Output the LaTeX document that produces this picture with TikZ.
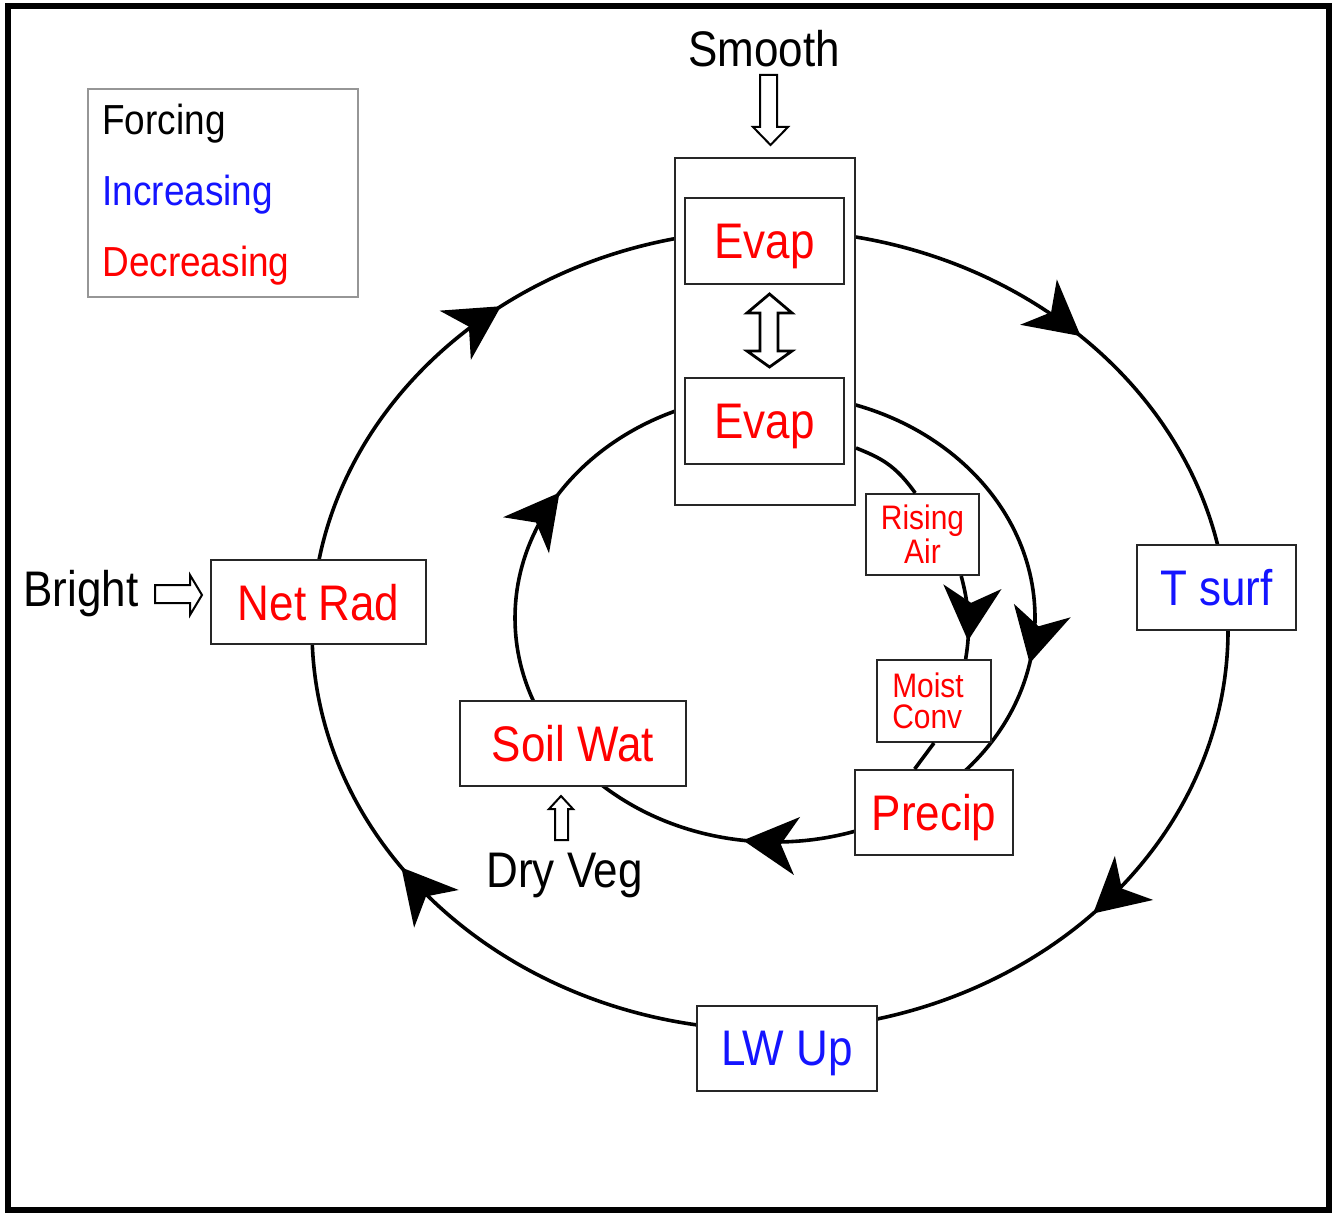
\documentclass[tikz,border=0pt]{standalone}
\usepackage{fontspec}
\newfontfamily\arial{Liberation Sans}[FakeStretch=0.88]
\usetikzlibrary{arrows.meta,decorations.markings,calc}
\definecolor{mred}{RGB}{255,0,0}
\definecolor{mblue}{RGB}{20,20,255}
\definecolor{lgray}{RGB}{150,150,150}
\begin{document}
\begin{tikzpicture}[x=0.5pt,y=-0.5pt,
  sz/.style 2 args={minimum width=#1*0.5pt,minimum height=#2*0.5pt},
  box/.style={draw=black!85,line width=1pt,fill=white,inner sep=0pt,text depth=0pt,
    font=\arial\fontsize{25}{30}\selectfont,text=mred},
  smallbox/.style={box,align=center,text depth=,font=\arial\fontsize{17}{15.5}\selectfont},
  big/.style={inner sep=0pt,font=\arial\fontsize{25}{30}\selectfont},
  lab/.style={inner sep=0pt,font=\arial\fontsize{21}{25}\selectfont},
  flow/.style={line width=1.8pt,black},
  hollow/.style={draw=black,line width=1pt,fill=white,line join=miter},
  myst/.tip={Stealth[length=27pt,width=29pt,inset=8pt]},
  arrowsat/.style={postaction={decorate},decoration={markings,#1}}
]
\useasboundingbox (0,0) rectangle (1336,1213);
\fill[white] (0,0) rectangle (1336,1213);
\draw[line width=3pt] (8,6) rectangle (1329,1210);

% cycles
\draw[flow,arrowsat={mark=at position 0.12 with {\arrow{myst}},
  mark=at position 0.404 with {\arrow{myst}},
  mark=at position 0.645 with {\arrow{myst}},
  mark=at position 0.874 with {\arrow{myst}}}]
  (770,630) ellipse [x radius=458, y radius=400];
\draw[flow,arrowsat={mark=at position 0.03 with {\arrow{myst}},
  mark=at position 0.271 with {\arrow{myst}},
  mark=at position 0.589 with {\arrow{myst}}}]
  (775,618) ellipse [x radius=260, y radius=224];

% boxes
\node[box,sz={180}{347}] (cont) at (765,331.5) {};
\node[box,sz={159}{86}] (evapA) at (764.5,241) {Evap};
\node[box,sz={159}{86}] (evapB) at (764.5,421) {Evap};
\node[smallbox,sz={113}{81}] (rise) at (922.5,534.5) {Rising\\Air};
\node[smallbox,align=left,sz={114}{82}] (moist) at (934,701) {Moist\hspace*{6pt}\\Conv};
\node[box,sz={158}{85}] (precip) at (934,812.5) {Precip};
\node[box,sz={159}{85},text=mblue] (tsurf) at (1216.5,587.5) {T surf};
\node[box,sz={180}{85},text=mblue] (lwup) at (787,1048.5) {LW Up};
\node[box,sz={215}{84}] (netrad) at (318.5,602) {Net Rad};
\node[box,sz={226}{85}] (soil) at (573,743.5) {Soil Wat};

% moisture path
\draw[flow] (cont.-52.8) .. controls +(25,10) and +(-20,-28) .. (rise.100.5);
\draw[flow,arrowsat={mark=at position 0.78 with {\arrow{myst}}}]
  (rise.-47) .. controls +(8,30) and +(5,-30) .. (moist.53);
\draw[flow] (moist.south) -- (precip.114);

% legend
\node[draw=lgray,line width=0.75pt,sz={270}{208}] (legend) at (223,193) {};
\node[lab,anchor=base west] (lforce) at (102,135) {Forcing};
\node[lab,anchor=base west,text=mblue] (linc) at (102,206) {Increasing};
\node[lab,anchor=base west,text=mred] (ldec) at (102,277) {Decreasing};

% forcings
\node[big,anchor=base] (smooth) at (764,67) {Smooth};
\node[big,anchor=base west] (bright) at (23,606) {Bright};
\node[big,anchor=base west] (dry) at (486,887) {Dry Veg};

\draw[hollow] (760,75) -- (777,75) -- (777,127) -- (788,127) -- (770.5,145)
  -- (753,127) -- (760,127) -- cycle;
\draw[hollow,line width=1.4pt] (769.5,294) -- (792,313) -- (778,313) -- (778,351)
  -- (792,351) -- (769.5,367) -- (747,351) -- (760,351) -- (760,313)
  -- (747,313) -- cycle;
\draw[hollow] (155,585) -- (190,585) -- (190,575) -- (202,595) -- (190,615)
  -- (190,603) -- (155,603) -- cycle;
\draw[hollow] (555,840) -- (555,809) -- (549,809) -- (561,796) -- (573,809)
  -- (568,809) -- (568,840) -- cycle;
\end{tikzpicture}
\end{document}
